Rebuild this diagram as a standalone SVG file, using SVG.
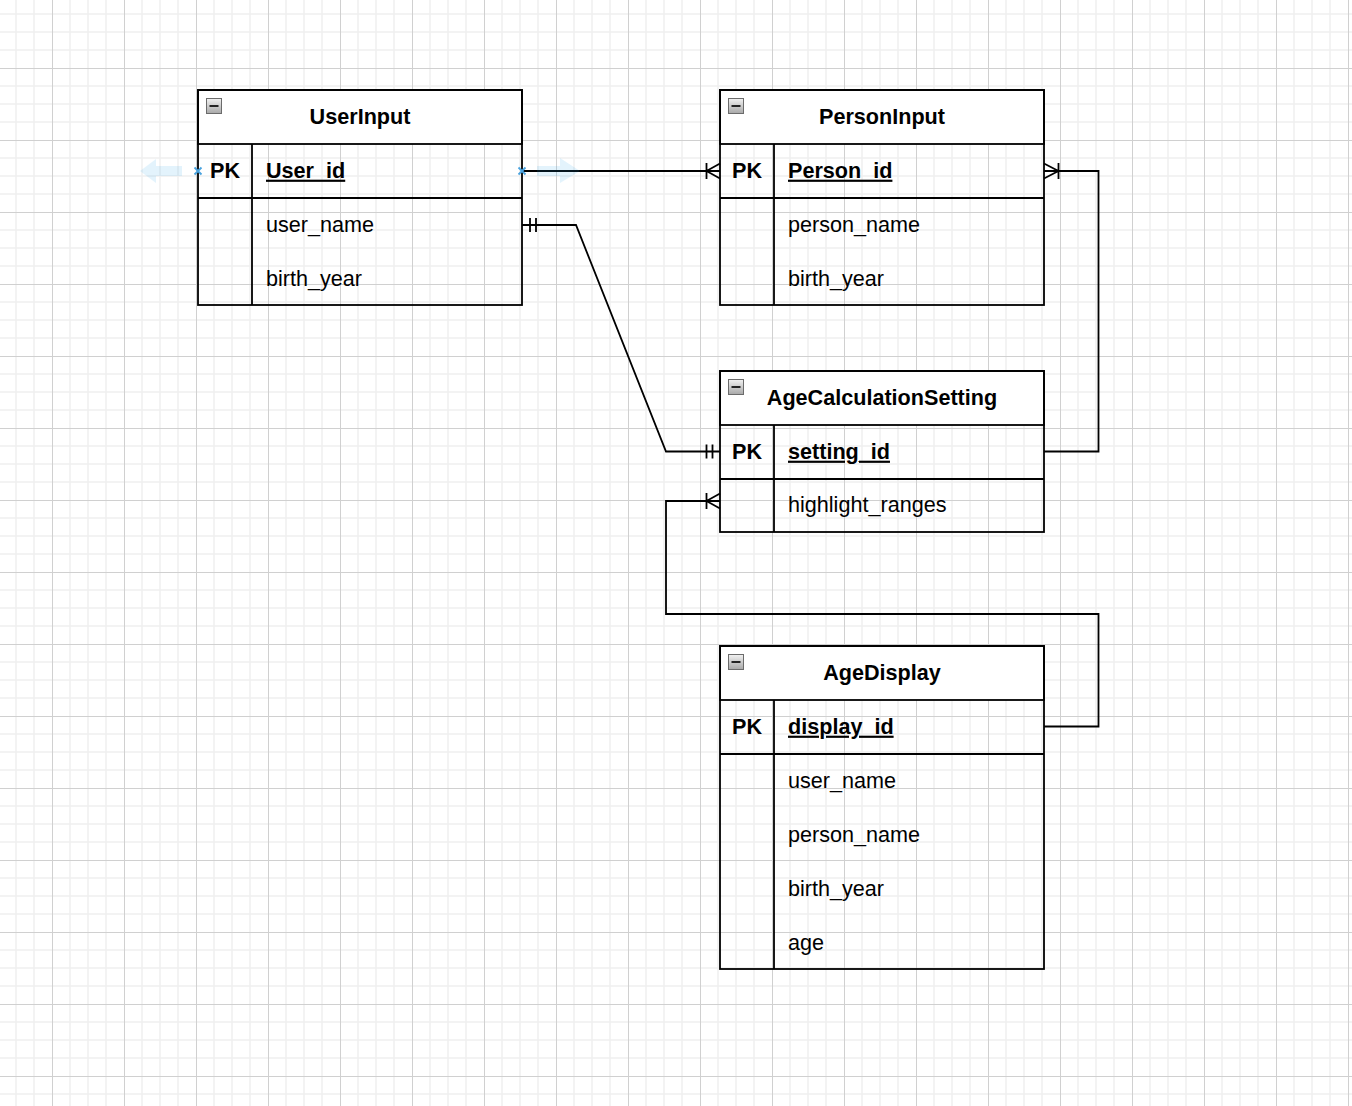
<svg xmlns="http://www.w3.org/2000/svg" width="1352" height="1106" viewBox="0 0 1352 1106">
<defs>
<pattern id="grid" patternUnits="userSpaceOnUse" x="52" y="68" width="72" height="72">
<path d="M18 0V72M36 0V72M54 0V72M0 18H72M0 36H72M0 54H72" stroke="#f0f0f0" stroke-width="1.5" fill="none"/>
<path d="M0.5 0V72M0 0.5H72" stroke="#d0d0d0" stroke-width="1" fill="none"/>
</pattern>
<linearGradient id="btn" x1="0" y1="0" x2="0" y2="1">
<stop offset="0" stop-color="#f2f2f2"/>
<stop offset="1" stop-color="#a8a8a8"/>
</linearGradient>
<g id="collapse">
<rect x="0.5" y="0.5" width="15" height="15" fill="url(#btn)" stroke="#6b6b6b" stroke-width="1"/>
<path d="M3.5 8H12.5" stroke="#111" stroke-width="1.8"/>
</g>
</defs>
<style>
text{font-family:"Liberation Sans",Helvetica,Arial,sans-serif;font-size:21.6px;fill:#000}
.title{font-weight:bold;text-anchor:middle}
.pk{font-weight:bold}
.pkf{font-weight:bold;text-decoration:underline}
.box{fill:none;stroke:#000;stroke-width:1.8}
.hdr{fill:#fff;stroke:#000;stroke-width:1.8}
.ln{fill:none;stroke:#000;stroke-width:1.8}
.edge{fill:none;stroke:#000;stroke-width:1.8;stroke-linejoin:miter}
.hint{fill:#29a3e6;opacity:0.13}
.cross{stroke:#4aa3df;stroke-width:1.8;fill:none}
</style>
<rect x="0" y="0" width="1352" height="1106" fill="#fff"/>
<rect x="0" y="0" width="1352" height="1106" fill="url(#grid)"/>

<g id="UserInput">
<rect class="hdr" x="198" y="90" width="324" height="54"/>
<rect class="box" x="198" y="90" width="324" height="215"/>
<path class="ln" d="M198 198H522M252 144V305"/>
<use href="#collapse" x="206" y="98"/>
<text class="title" x="360" y="123.7">UserInput</text>
<text class="pk" x="210" y="177.7">PK</text>
<text class="pkf" x="266" y="177.7">User_id</text>
<text x="266" y="231.7">user_name</text>
<text x="266" y="285.7">birth_year</text>
</g>

<g id="PersonInput">
<rect class="hdr" x="720" y="90" width="324" height="54"/>
<rect class="box" x="720" y="90" width="324" height="215"/>
<path class="ln" d="M720 198H1044M774 144V305"/>
<use href="#collapse" x="728" y="98"/>
<text class="title" x="882" y="123.7">PersonInput</text>
<text class="pk" x="732" y="177.7">PK</text>
<text class="pkf" x="788" y="177.7">Person_id</text>
<text x="788" y="231.7">person_name</text>
<text x="788" y="285.7">birth_year</text>
</g>

<g id="AgeCalculationSetting">
<rect class="hdr" x="720" y="371" width="324" height="54"/>
<rect class="box" x="720" y="371" width="324" height="161"/>
<path class="ln" d="M720 479H1044M774 425V532"/>
<use href="#collapse" x="728" y="379"/>
<text class="title" x="882" y="404.7">AgeCalculationSetting</text>
<text class="pk" x="732" y="458.7">PK</text>
<text class="pkf" x="788" y="458.7">setting_id</text>
<text x="788" y="512.2">highlight_ranges</text>
</g>

<g id="AgeDisplay">
<rect class="hdr" x="720" y="646" width="324" height="54"/>
<rect class="box" x="720" y="646" width="324" height="323"/>
<path class="ln" d="M720 754H1044M774 700V969"/>
<use href="#collapse" x="728" y="654"/>
<text class="title" x="882" y="679.7">AgeDisplay</text>
<text class="pk" x="732" y="733.7">PK</text>
<text class="pkf" x="788" y="733.7">display_id</text>
<text x="788" y="787.7">user_name</text>
<text x="788" y="841.7">person_name</text>
<text x="788" y="895.7">birth_year</text>
<text x="788" y="949.7">age</text>
</g>

<g id="connectors">
<path class="edge" d="M522 171H720"/>
<path class="edge" d="M706.5 163V179M706.5 171L720 163.5M706.5 171L720 178.5"/>
<path class="edge" d="M522 225H576L666 451.5H720"/>
<path class="edge" d="M530 218V232M536 218V232"/>
<path class="edge" d="M706.5 444.5V458.5M712.5 444.5V458.5"/>
<path class="edge" d="M1044 171H1098.5V451.5H1044"/>
<path class="edge" d="M1058.5 163V179M1058.5 171L1044 163.5M1058.5 171L1044 178.5"/>
<path class="edge" d="M1044 726.5H1098.5V614H666V501H720"/>
<path class="edge" d="M706.5 493V509M706.5 501L720 493.5M706.5 501L720 508.5"/>
<path class="hint" d="M140 171L156 159V166H182V176H156V183Z"/>
<path class="hint" d="M580 171L560 158V166H537V176H560V183Z"/>
<path class="cross" d="M194.5 167.5L201.5 174.5M201.5 167.5L194.5 174.5"/>
<path class="cross" d="M518.5 167.5L525.5 174.5M525.5 167.5L518.5 174.5"/>
</g>
</svg>
